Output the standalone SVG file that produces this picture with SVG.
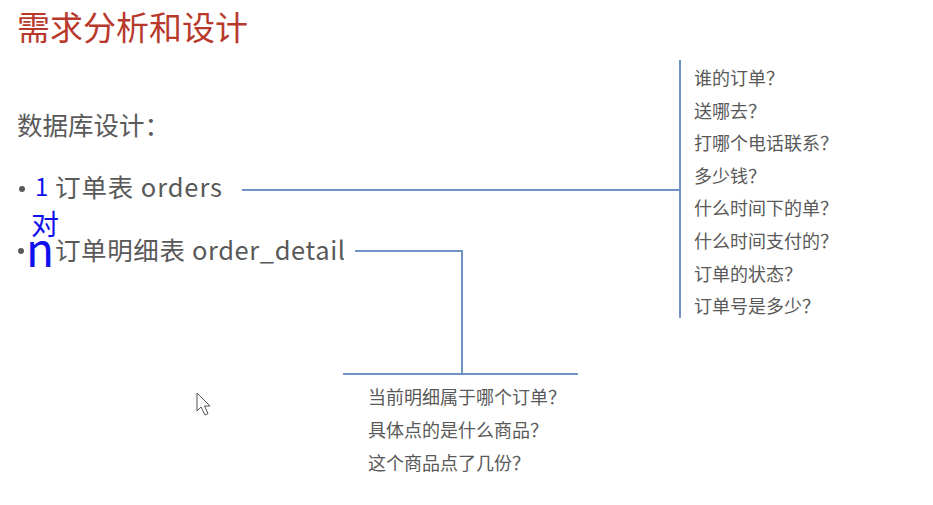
<svg xmlns="http://www.w3.org/2000/svg" width="933" height="505" viewBox="0 0 933 505">
<style>
.t{font-family:"Noto Sans CJK SC","Liberation Sans",sans-serif;}
.title{fill:#b8392c;font-size:33px;}
.main{fill:#595959;font-size:25.5px;}
.q{fill:#595959;font-size:18px;}
.hw{fill:#1010ee;font-family:"Noto Sans CJK SC",sans-serif;}
.ln{stroke:#7092c4;stroke-width:2;fill:none;}
.dot{fill:#595959;}
</style>
<rect width="933" height="505" fill="#ffffff"/>
<g id="title"><text class="t title" x="17" y="40">需求分析和设计</text></g>
<g id="subtitle"><text class="t main" x="17" y="135">数据库设计：</text></g>
<g id="orders">
<circle class="dot" cx="22" cy="189" r="3"/>
<text class="t main" x="55" y="197" textLength="167">订单表 orders</text>
</g>
<g id="order_detail">
<circle class="dot" cx="21" cy="251" r="3"/>
<text class="t main" x="55" y="260" textLength="290">订单明细表 order_detail</text>
</g>
<g id="annotation">
<text class="hw"><tspan x="35" y="196" font-size="24">1</tspan><tspan x="31" y="235" font-size="28">对</tspan><tspan x="26" y="267" font-size="46">n</tspan></text>
</g>
<g id="connectors">
<path class="ln" d="M242 190 H680 M680 60 V318"/>
<path class="ln" d="M355 251 H462 V374 M343 374 H578"/>
</g>
<g id="orders-questions">
<text class="t q" x="694" y="85">谁的订单？</text>
<text class="t q" x="694" y="118">送哪去？</text>
<text class="t q" x="694" y="150">打哪个电话联系？</text>
<text class="t q" x="694" y="183">多少钱？</text>
<text class="t q" x="694" y="215">什么时间下的单？</text>
<text class="t q" x="694" y="248">什么时间支付的？</text>
<text class="t q" x="694" y="281">订单的状态？</text>
<text class="t q" x="694" y="313">订单号是多少？</text>
</g>
<g id="detail-questions">
<text class="t q" x="368" y="404">当前明细属于哪个订单？</text>
<text class="t q" x="368" y="437">具体点的是什么商品？</text>
<text class="t q" x="368" y="470">这个商品点了几份？</text>
</g>
<g id="cursor">
<path d="M197 393 V411 L201 407 L205 415 L208 413.5 L204.5 406 L210 406 Z" fill="#ffffff" stroke="#555" stroke-width="1"/>
</g>
</svg>
